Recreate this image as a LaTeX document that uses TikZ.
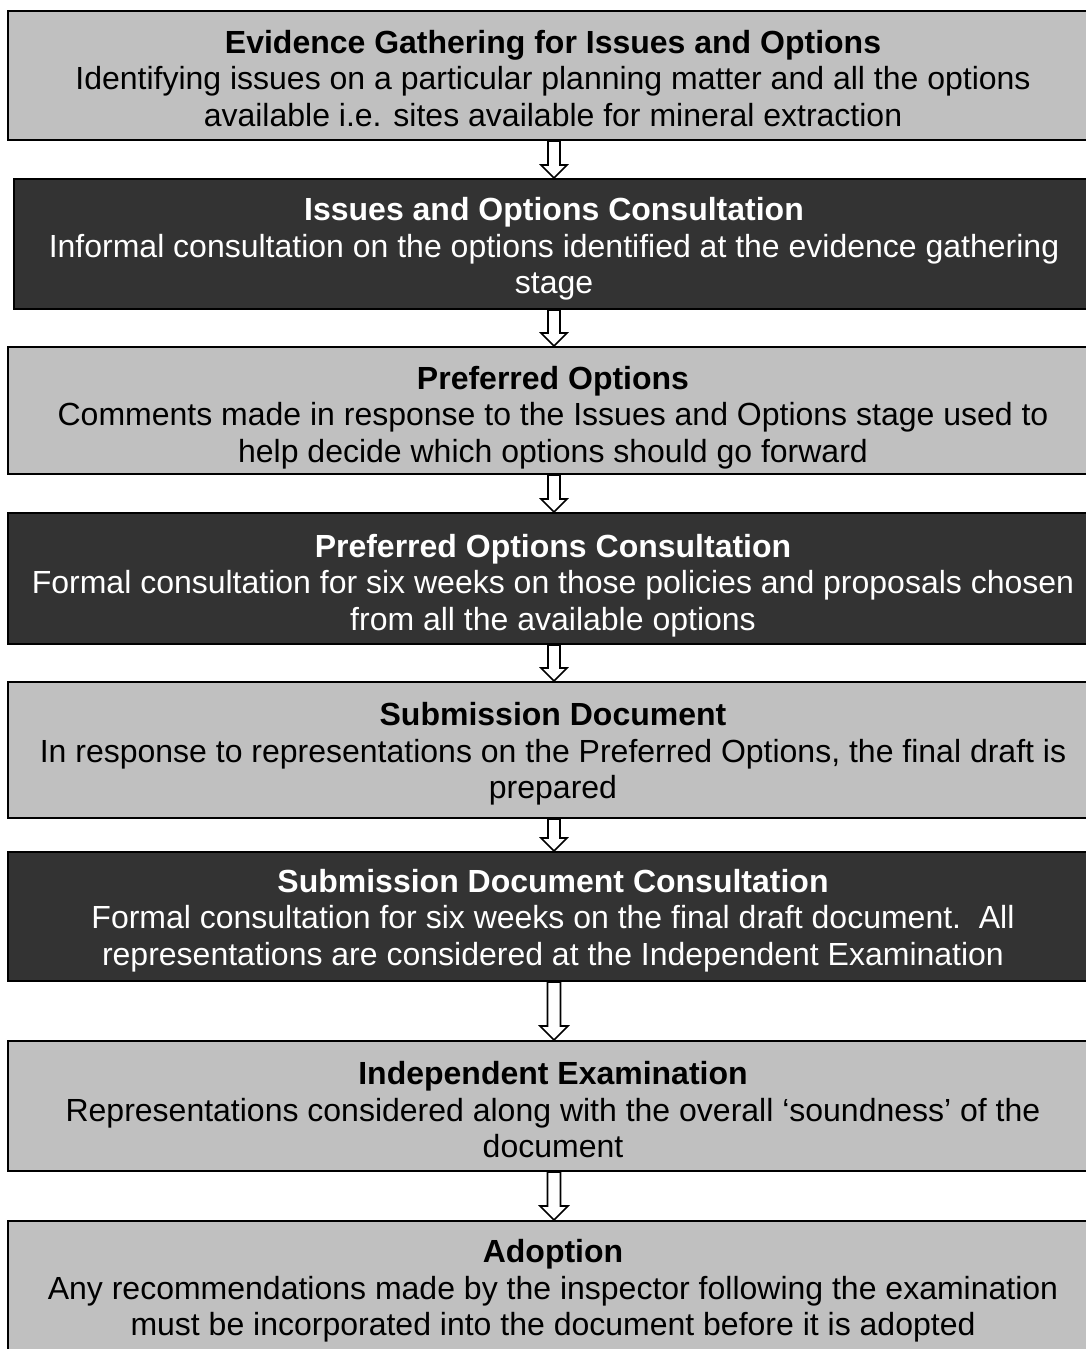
\documentclass[tikz,border=0pt]{standalone}
\usepackage{fontspec}
\setmainfont{Liberation Sans}
\usetikzlibrary{calc}

\definecolor{stagegray}{HTML}{C0C0C0}
\definecolor{stagedark}{HTML}{333333}

\tikzset{
    stage/.style={draw=black, line width=2pt, fill=stagegray, anchor=north,
        minimum width=1090pt, align=center, inner sep=0pt,
        font=\fontsize{32}{36.5}\selectfont},
    darkstage/.style={stage, fill=stagedark, text=white},
    hollow/.style={draw=black, line width=1.6pt, fill=white, line join=miter}
}

% bold title line, with a strut that pushes the text down in its box
\newcommand{\stagetitle}[2]{\rule{0pt}{#1pt}\textbf{#2}}

% hollow down arrow from one stage to the next: from, to, shaft half width, head half width, head length
\newcommand{\stagearrow}[5]{%
    \draw[hollow] let \p1=(#1.south), \p2=(#2.north) in
        ({554pt-#3pt},\y1) -- ({554pt-#3pt},{\y2+#5pt}) -- ({554pt-#4pt},{\y2+#5pt})
        -- (554pt,\y2) -- ({554pt+#4pt},{\y2+#5pt}) -- ({554pt+#3pt},{\y2+#5pt})
        -- ({554pt+#3pt},\y1) -- cycle;
}

\begin{document}
\begin{tikzpicture}[x=1pt, y=-1pt]
    \useasboundingbox (0,0) rectangle (1086,1349);

    % Stages
    \node[stage, minimum height=129pt] (gather) at (553,10)
        {\stagetitle{29}{Evidence Gathering for Issues and Options}\\Identifying issues on a particular planning matter and all the options\\available i.e. sites available for mineral extraction};
    \node[darkstage, minimum height=130pt, minimum width=1080pt] (issues) at (554,178)
        {\stagetitle{33}{Issues and Options Consultation}\\Informal consultation on the options identified at the evidence gathering\\stage};
    \node[stage, minimum height=127pt] (preferred) at (553,346)
        {\stagetitle{37}{Preferred Options}\\Comments made in response to the Issues and Options stage used to\\help decide which options should go forward};
    \node[darkstage, minimum height=131pt] (prefcons) at (553,512)
        {\stagetitle{37}{Preferred Options Consultation}\\Formal consultation for six weeks on those policies and proposals chosen\\from all the available options};
    \node[stage, minimum height=136pt] (submission) at (553,681)
        {\stagetitle{31}{Submission Document}\\In response to representations on the Preferred Options, the final draft is\\prepared};
    \node[darkstage, minimum height=129pt] (subcons) at (553,851)
        {\stagetitle{31}{Submission Document Consultation}\\Formal consultation for six weeks on the final draft document.\ \ All\\representations are considered at the Independent Examination};
    \node[stage, minimum height=130pt] (exam) at (553,1040)
        {\stagetitle{31}{Independent Examination}\\Representations considered along with the overall ‘soundness’ of the\\document};
    \node[stage, minimum height=134pt] (adopt) at (553,1220)
        {\stagetitle{29}{Adoption}\\Any recommendations made by the inspector following the examination\\must be incorporated into the document before it is adopted};

    % Arrows
    \stagearrow{gather}{issues}{6}{13}{13}
    \stagearrow{issues}{preferred}{6}{13}{13}
    \stagearrow{preferred}{prefcons}{6}{13}{13}
    \stagearrow{prefcons}{submission}{6}{13}{13}
    \stagearrow{submission}{subcons}{6}{13}{13}
    \stagearrow{subcons}{exam}{6.5}{14}{14}
    \stagearrow{exam}{adopt}{6.5}{14}{14}
\end{tikzpicture}
\end{document}
